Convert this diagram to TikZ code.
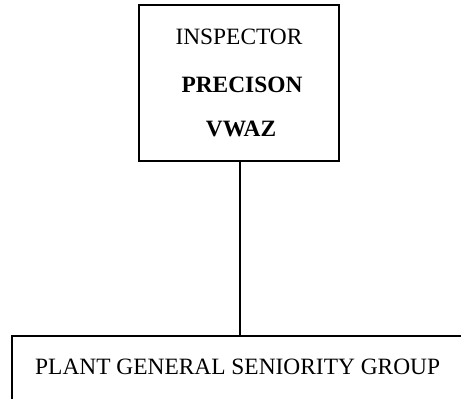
\documentclass[tikz,border=0pt]{standalone}
\usepackage{fontspec}
\setmainfont{Liberation Serif}
\begin{document}
\begin{tikzpicture}[x=1pt,y=-1pt,
  edge/.style={line width=1.8pt},
  lbl/.style={inner sep=0pt,anchor=base,font=\fontsize{23.4}{28}\selectfont}]
\useasboundingbox (0,0) rectangle (461,399);
% top box
\coordinate (boxTL) at (139,5);
\coordinate (boxBR) at (339,161);
\draw[edge] (boxTL) rectangle (boxBR);
\node[lbl] (insp) at (239,44) {INSPECTOR};
\node[lbl] (prec) at (242,92) {\textbf{PRECISON}};
\node[lbl] (vwaz) at (241,136) {\textbf{VWAZ}};
% connector
\coordinate (boxS) at (240,161);
\coordinate (grpN) at (240,336);
\draw[edge] (boxS) -- (grpN);
% bottom group
\coordinate (grpR) at (461,336);
\coordinate (grpL) at (12,336);
\coordinate (grpB) at (12,399);
\draw[edge] (grpR) -- (grpL) -- (grpB);
\node[lbl,anchor=base west] (grp) at (35,374) {PLANT GENERAL SENIORITY GROUP};
\end{tikzpicture}
\end{document}
